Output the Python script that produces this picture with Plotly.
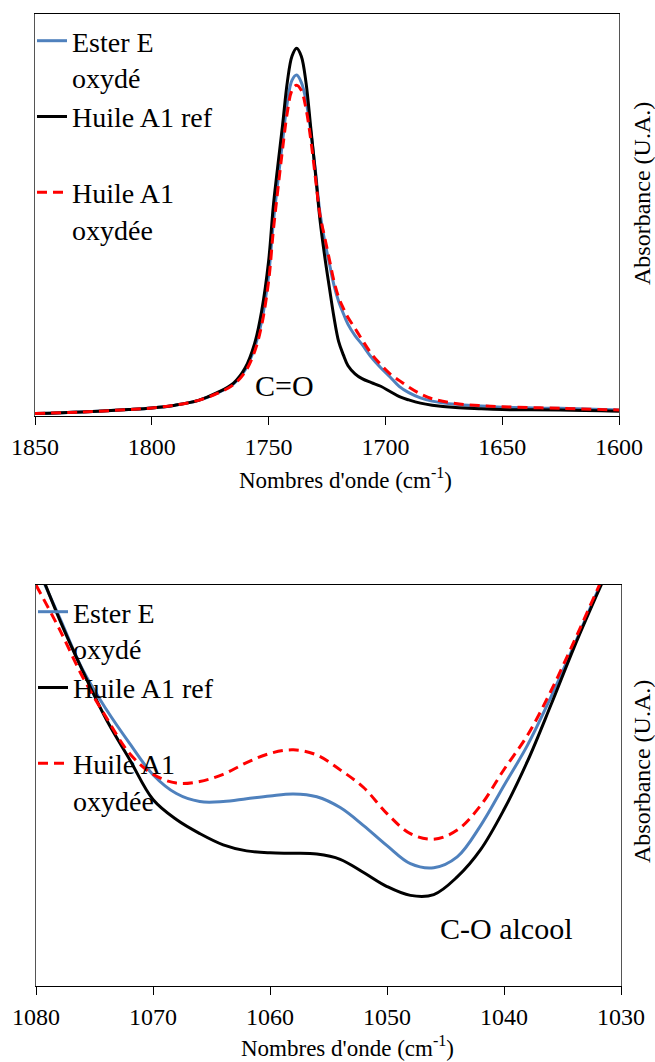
import plotly.graph_objects as go

# ---- Top panel (C=O region) ----
wn_top = [1850, 1830, 1810, 1800, 1790, 1780, 1772, 1765, 1760, 1756, 1753, 1750, 1748,
          1746, 1744, 1742, 1740, 1738, 1736, 1734, 1732, 1730, 1728, 1726, 1724, 1722,
          1720, 1718, 1716, 1713, 1710, 1706, 1702, 1698, 1694, 1690, 1685, 1680, 1670,
          1660, 1650, 1625, 1600]
ester_top = [0.006, 0.010, 0.016, 0.020, 0.027, 0.039, 0.057, 0.080, 0.115, 0.17, 0.235, 0.35,
             0.48, 0.585, 0.685, 0.78, 0.835, 0.848, 0.83, 0.785, 0.71, 0.612, 0.505, 0.435,
             0.38, 0.325, 0.285, 0.255, 0.228, 0.200, 0.178, 0.146, 0.12, 0.097, 0.073, 0.058,
             0.045, 0.037, 0.029, 0.025, 0.022, 0.019, 0.015]
ref_top = [0.006, 0.010, 0.016, 0.020, 0.027, 0.039, 0.058, 0.082, 0.12, 0.18, 0.26, 0.385,
           0.521, 0.625, 0.725, 0.83, 0.895, 0.915, 0.895, 0.83, 0.72, 0.607, 0.488, 0.398,
           0.32, 0.245, 0.185, 0.152, 0.125, 0.105, 0.093, 0.083, 0.074, 0.061, 0.048, 0.040,
           0.032, 0.027, 0.021, 0.018, 0.016, 0.015, 0.012]
oxy_top = [0.006, 0.010, 0.016, 0.020, 0.027, 0.039, 0.056, 0.078, 0.11, 0.16, 0.225, 0.335,
           0.46, 0.565, 0.665, 0.755, 0.81, 0.823, 0.81, 0.765, 0.69, 0.595, 0.5, 0.445,
           0.39, 0.335, 0.295, 0.268, 0.245, 0.218, 0.19, 0.155, 0.128, 0.105, 0.088, 0.072,
           0.055, 0.043, 0.031, 0.026, 0.023, 0.019, 0.015]

# ---- Bottom panel (C-O alcool region) ----
wn_bot = [1080, 1078, 1076, 1074, 1072, 1070, 1068, 1066, 1064, 1062, 1060, 1058, 1056,
          1054, 1052, 1050, 1048, 1046, 1044, 1042, 1040, 1038, 1036, 1034, 1032, 1030]
ester_bot = [1.05, 0.92, 0.788, 0.69, 0.605, 0.527, 0.48, 0.46, 0.46, 0.467, 0.474, 0.479,
             0.472, 0.445, 0.40, 0.35, 0.305, 0.295, 0.322, 0.40, 0.50, 0.60, 0.72, 0.85,
             0.985, 1.11]
ref_bot = [1.06, 0.915, 0.785, 0.665, 0.565, 0.465, 0.415, 0.38, 0.352, 0.337, 0.332, 0.331,
           0.329, 0.316, 0.283, 0.248, 0.226, 0.228, 0.272, 0.34, 0.44, 0.56, 0.70, 0.845,
           0.98, 1.11]
oxy_bot = [1.0, 0.89, 0.77, 0.67, 0.58, 0.528, 0.506, 0.51, 0.528, 0.557, 0.58, 0.589,
           0.576, 0.539, 0.495, 0.43, 0.38, 0.366, 0.389, 0.45, 0.54, 0.625, 0.735, 0.86,
           0.99, 1.12]

names = ["Ester E<br>oxydé", "Huile A1 ref<br> ", "Huile A1<br>oxydée"]
top_ticks = [1850, 1800, 1750, 1700, 1650, 1600]
bot_ticks = [1080, 1070, 1060, 1050, 1040, 1030]

W, H = 655, 1062
FONT = "Liberation Serif, DejaVu Serif, Noto Serif, serif"
BLUE = "#4F81BD"
RED = "#FF0000"

def px_x(p):
    return p / W

def px_y(p):
    return 1 - p / H

fig = go.Figure()

styles = [dict(color=BLUE, width=3), dict(color="black", width=3),
          dict(color=RED, width=3, dash="10px,6px")]

for i, (ys, nm) in enumerate(zip([ester_top, ref_top, oxy_top], names)):
    fig.add_trace(go.Scatter(x=wn_top, y=ys, name=nm, mode="lines", line=styles[i],
                             line_shape="spline", xaxis="x", yaxis="y", legend="legend"))
for i, (ys, nm) in enumerate(zip([ester_bot, ref_bot, oxy_bot], names)):
    fig.add_trace(go.Scatter(x=wn_bot, y=ys, name=nm, mode="lines", line=styles[i],
                             line_shape="spline", xaxis="x2", yaxis="y2", legend="legend2"))

xcommon = dict(showgrid=False, zeroline=False, showline=True, linecolor="black", linewidth=1.3,
               mirror=True, ticks="outside", ticklen=8, tickcolor="black", automargin=False,
               tickfont=dict(family=FONT, size=24, color="black"), ticklabelstandoff=1)
ycommon = dict(showgrid=False, zeroline=False, showline=True, linecolor="#555555", linewidth=1.3,
               mirror=True, showticklabels=False, ticks="", range=[0, 1], automargin=False)

fig.update_layout(
    width=W, height=H, margin=dict(l=0, r=0, t=0, b=0, autoexpand=False),
    paper_bgcolor="white", plot_bgcolor="white",
    font=dict(family=FONT, color="black"),
    xaxis=dict(domain=[px_x(35), px_x(619)], range=[1850, 1600], tickvals=top_ticks,
               anchor="y", **xcommon),
    yaxis=dict(domain=[px_y(416), px_y(14)], anchor="x", **ycommon),
    xaxis2=dict(domain=[px_x(36), px_x(621)], range=[1080, 1030], tickvals=bot_ticks,
                anchor="y2", **xcommon),
    yaxis2=dict(domain=[px_y(986), px_y(585)], anchor="x2", **ycommon),
    legend=dict(x=px_x(32), y=px_y(16), xanchor="left", yanchor="top", xref="paper", yref="paper",
                bgcolor="rgba(0,0,0,0)", borderwidth=0, valign="top", tracegroupgap=0,
                font=dict(family=FONT, size=28, color="black"), itemwidth=30),
    legend2=dict(x=px_x(33), y=px_y(587), xanchor="left", yanchor="top", xref="paper", yref="paper",
                 bgcolor="rgba(0,0,0,0)", borderwidth=0, valign="top", tracegroupgap=0,
                 font=dict(family=FONT, size=28, color="black"), itemwidth=30),
    showlegend=True,
)

ann_font = dict(family=FONT, size=23, color="black")
annotations = [
    dict(text="Nombres d'onde (cm<sup>-1</sup>)", x=px_x(345), y=px_y(478)),
    dict(text="Nombres d'onde (cm<sup>-1</sup>)", x=px_x(347), y=px_y(1046)),
]
for a in annotations:
    fig.add_annotation(xref="paper", yref="paper", showarrow=False, font=ann_font,
                       xanchor="center", yanchor="middle", **a)
for yc in [194, 772]:
    fig.add_annotation(xref="paper", yref="paper", x=px_x(642), y=px_y(yc), text="Absorbance (U.A.)",
                       textangle=-90, showarrow=False, xanchor="center", yanchor="middle",
                       font=dict(family=FONT, size=24, color="black"))
fig.add_annotation(xref="paper", yref="paper", x=px_x(284), y=px_y(385), text="C=O",
                   showarrow=False, xanchor="center", yanchor="middle",
                   font=dict(family=FONT, size=30, color="black"))
fig.add_annotation(xref="paper", yref="paper", x=px_x(506), y=px_y(928), text="C-O alcool",
                   showarrow=False, xanchor="center", yanchor="middle",
                   font=dict(family=FONT, size=30, color="black"))

fig.write_html("out.html", config={"displayModeBar": False},
               post_script="document.body.style.margin='0px';")
